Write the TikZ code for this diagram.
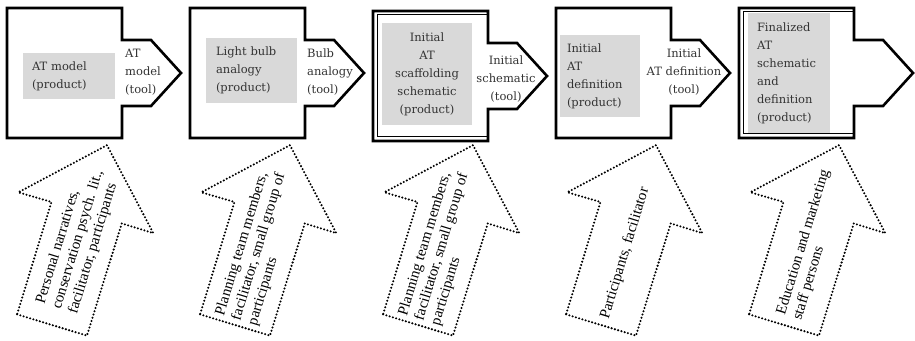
\documentclass[tikz,border=0pt]{standalone}
\usepackage{fontspec}
\setmainfont{DejaVu Serif}
\newfontfamily\tnr{Liberation Serif}
\definecolor{boxgray}{gray}{0.85}
\definecolor{labeltext}{gray}{0.2}
\begin{document}
\begin{tikzpicture}[x=1pt,y=1pt,
  blockline/.style={line width=2.6pt, line join=miter},
  innerline/.style={line width=1pt},
  prodbox/.style={fill=boxgray, inner ysep=0pt, text=labeltext, font=\fontsize{11.5}{18}\selectfont},
  toollabel/.style={inner sep=0pt, text=labeltext, font=\fontsize{11.5}{18}\selectfont},
  dotarrow/.style={line width=2.3pt, dash pattern=on 0pt off 3.4pt, line cap=round, line join=round},
  arrowtext/.style={rotate=73, anchor=west, inner sep=0pt, align=left, font=\tnr\fontsize{15}{17}\selectfont}
]
\useasboundingbox (0,0) rectangle (915,340);

% process blocks
\foreach \dx/\dy in {0/0,183/0,366/-3,549/0,732/0}{
  \draw[blockline, shift={(\dx,\dy)}] (7,332) -- (122,332) -- (122,300) -- (151,300) -- (181,267) -- (151,234) -- (122,234) -- (122,202) -- (7,202) -- cycle;
}
% double borders on blocks 3 and 5
\draw[innerline, shift={(366,-3)}] (122,328) -- (11,328) -- (11,206) -- (122,206);
\draw[innerline, shift={(732,0)}] (122,328) -- (11,328) -- (11,206) -- (122,206);

% product boxes
\node[prodbox, minimum width=92pt, minimum height=46pt, inner xsep=9pt, text width=74pt, align=left] (p1) at (69,264) {AT model\\(product)};
\node[prodbox, minimum width=91pt, minimum height=65pt, inner xsep=10pt, text width=71pt, align=left] (p2) at (251.5,269.5) {Light bulb\\analogy\\(product)};
\node[prodbox, minimum width=90pt, minimum height=102pt, inner xsep=4pt, text width=82pt, align=center] (p3) at (427,266) {Initial\\AT\\scaffolding\\schematic\\(product)};
\node[prodbox, minimum width=80pt, minimum height=82pt, inner xsep=7pt, text width=66pt, align=left] (p4) at (600,264) {Initial\\AT\\definition\\(product)};
\node[prodbox, minimum width=82pt, minimum height=120pt, inner xsep=9pt, text width=64pt, align=left] (p5) at (789,267) {Finalized\\AT\\schematic\\and\\definition\\(product)};

% tool labels
\node[toollabel, anchor=west, align=left] (t1) at (125,268) {AT\\model\\(tool)};
\node[toollabel, anchor=west, align=left] (t2) at (307,268) {Bulb\\analogy\\(tool)};
\node[toollabel, align=center] (t3) at (506,261) {Initial\\schematic\\(tool)};
\node[toollabel, align=center] (t4) at (684,268) {Initial\\AT definition\\(tool)};

% dotted arrows
\foreach \dx in {0,183,366,549,732}{
  \draw[dotarrow, shift={(52+\dx,15)}, rotate=-17] (-36.5,0) -- (36.5,0) -- (37,117.5) -- (70,117.5) -- (0,188) -- (-71,117) -- (-36.5,117.5) -- cycle;
}
\node[arrowtext] (a1) at (57,31.3) {Personal narratives,\\conservation psych. lit.,\\facilitator, participants};
\node[arrowtext] (a2) at (236.5,19.8) {Planning team members,\\facilitator, small group of\\participants};
\node[arrowtext] (a3) at (419.5,19.8) {Planning team members,\\facilitator, small group of\\participants};
\node[arrowtext] (a4) at (605,21.1) {Participants, facilitator};
\node[arrowtext] (a5) at (789.5,22.7) {Education and marketing\\staff persons};
\end{tikzpicture}
\end{document}
